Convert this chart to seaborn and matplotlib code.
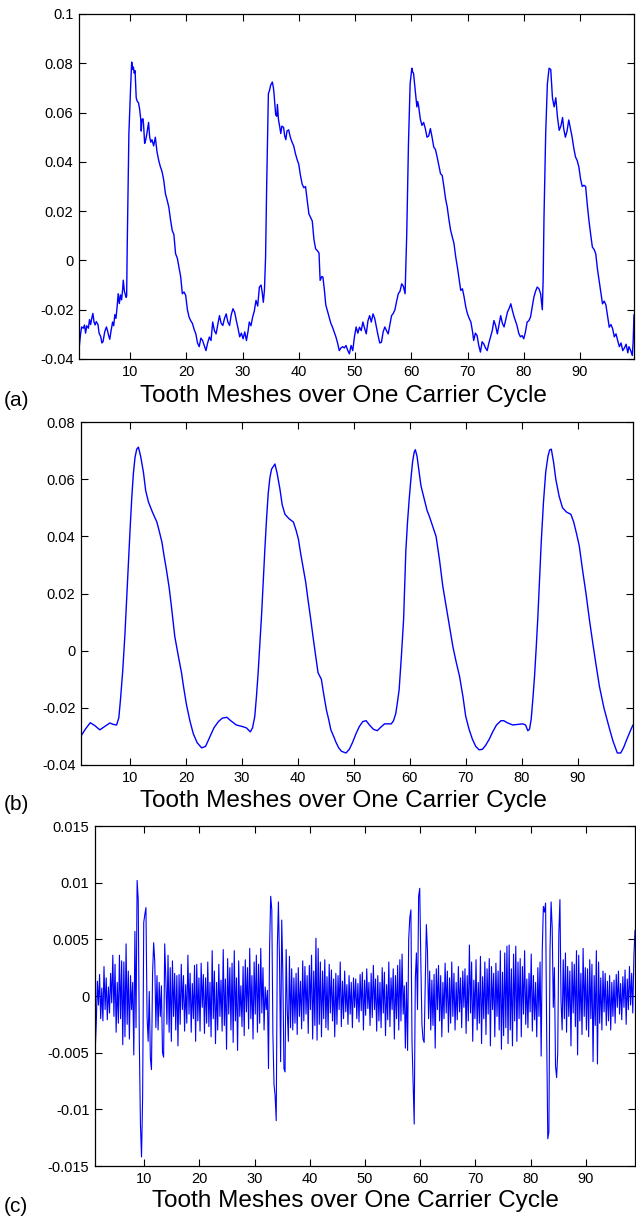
import numpy as np
import pandas as pd
import matplotlib
matplotlib.use("Agg")
import matplotlib.pyplot as plt
import seaborn as sns

# ---------------- data ----------------
# (a) measured signal (x, value) read from the picture
a_pts = [(1.0,-.0345),(1.2,-.030),(1.4,-.027),(1.7,-.0275),(1.9,-.0262),(2.1,-.0295),(2.3,-.0265),(2.6,-.0275),(2.8,-.024),(3.0,-.026),(3.2,-.0235),(3.4,-.0215),(3.6,-.025),(3.8,-.0262),(4.0,-.0248),(4.3,-.026),(4.5,-.0295),(4.8,-.031),(5.0,-.0335),(5.2,-.033),(5.5,-.029),(5.8,-.027),(6.0,-.0285),(6.2,-.0305),(6.4,-.032),(6.6,-.029),(6.9,-.025),(7.1,-.0265),(7.3,-.022),(7.5,-.0235),(7.7,-.019),(7.9,-.0135),(8.1,-.0175),(8.3,-.014),(8.5,-.016),(8.7,-.0115),(8.8,-.008),(9.0,-.0125),(9.3,-.015),(9.4,-.0145),(9.5,.0054),(9.7,.035),(9.8,.0515),(10.0,.064),(10.1,.070),(10.3,.0805),(10.45,.0775),(10.6,.0785),(10.75,.076),(10.9,.077),(11.1,.066),(11.3,.0645),(11.5,.064),(11.7,.0615),(11.9,.0575),(12.0,.0525),(12.1,.057),(12.3,.0575),(12.4,.0555),(12.6,.0475),(12.8,.049),(13.0,.0515),(13.3,.056),(13.5,.050),(13.7,.048),(13.9,.049),(14.2,.0465),(14.5,.050),(14.8,.044),(15.1,.0406),(15.4,.038),(15.7,.036),(16.0,.0325),(16.3,.027),(16.6,.0245),(16.9,.0216),(17.2,.0165),(17.5,.0122),(17.8,.0105),(18.1,.0027),(18.4,.001),(18.7,-.0027),(19.0,-.0065),(19.3,-.0135),(19.6,-.0128),(19.9,-.0142),(20.2,-.020),(20.5,-.023),(20.8,-.0245),(21.1,-.0256),(21.4,-.028),(21.7,-.0298),(22.0,-.0335),(22.3,-.035),(22.6,-.0315),(22.9,-.0325),(23.2,-.0345),(23.5,-.0366),(23.8,-.0335),(24.1,-.0311),(24.4,-.0325),(24.7,-.025),(25.0,-.0285),(25.3,-.0298),(25.6,-.026),(25.9,-.0224),(26.2,-.0255),(26.5,-.0264),(26.8,-.0235),(27.1,-.0217),(27.4,-.025),(27.7,-.0264),(28.0,-.022),(28.3,-.0196),(28.6,-.021),(28.9,-.0244),(29.2,-.0275),(29.5,-.031),(29.8,-.0295),(30.1,-.0318),(30.4,-.029),(30.7,-.0325),(31.0,-.0285),(31.2,-.025),(31.5,-.0265),(31.8,-.023),(32.1,-.0205),(32.4,-.0162),(32.7,-.0185),(33.0,-.0108),(33.3,-.010),(33.5,-.013),(33.7,-.017),(33.9,-.012),(34.1,.0013),(34.3,.031),(34.5,.056),(34.6,.0677),(34.8,.069),(35.0,.0711),(35.3,.0724),(35.5,.070),(35.6,.0677),(35.8,.062),(35.9,.059),(36.1,.0585),(36.2,.0633),(36.4,.057),(36.6,.0545),(36.8,.0515),(37.0,.0545),(37.3,.054),(37.5,.0505),(37.7,.049),(37.9,.0525),(38.2,.053),(38.5,.050),(38.8,.048),(39.1,.0465),(39.4,.0434),(39.7,.041),(40.0,.039),(40.3,.0345),(40.6,.031),(40.9,.0295),(41.2,.030),(41.5,.0245),(41.8,.0189),(42.1,.0175),(42.4,.016),(42.7,.0085),(43.0,.0047),(43.3,.0040),(43.6,.003),(43.8,-.0081),(44.1,-.0065),(44.3,-.0068),(44.6,-.013),(44.8,-.018),(45.1,-.0205),(45.4,-.0229),(45.7,-.0255),(46.0,-.0271),(46.3,-.029),(46.6,-.031),(46.9,-.0335),(47.2,-.0366),(47.5,-.0355),(47.8,-.035),(48.1,-.0355),(48.4,-.0345),(48.7,-.0365),(49.0,-.0379),(49.3,-.0345),(49.6,-.0366),(49.9,-.031),(50.2,-.027),(50.5,-.0295),(50.8,-.0271),(51.1,-.0285),(51.4,-.025),(51.7,-.0275),(52.0,-.0298),(52.3,-.0245),(52.6,-.0224),(52.9,-.025),(53.2,-.0217),(53.5,-.0235),(53.8,-.0271),(54.1,-.0305),(54.4,-.0335),(54.7,-.0332),(55.0,-.029),(55.3,-.027),(55.6,-.0285),(55.9,-.0298),(56.2,-.026),(56.5,-.0224),(56.8,-.0215),(57.1,-.020),(57.4,-.0165),(57.7,-.0135),(58.0,-.0125),(58.3,-.0095),(58.6,-.0105),(58.9,-.0135),(59.2,.011),(59.5,.047),(59.8,.0717),(60.1,.078),(60.25,.0765),(60.4,.076),(60.7,.069),(61.0,.0623),(61.15,.0645),(61.3,.0628),(61.6,.0575),(61.9,.0548),(62.2,.056),(62.5,.0535),(62.8,.050),(63.1,.0505),(63.4,.0535),(63.7,.050),(64.0,.046),(64.3,.045),(64.6,.042),(64.9,.0385),(65.2,.0352),(65.5,.0345),(65.8,.030),(66.1,.025),(66.4,.0216),(66.7,.0165),(67.0,.0122),(67.3,.0095),(67.6,.0068),(67.9,.0015),(68.2,-.0027),(68.5,-.0075),(68.8,-.0122),(69.1,-.0115),(69.4,-.0149),(69.7,-.019),(70.0,-.0217),(70.3,-.0235),(70.6,-.025),(70.9,-.029),(71.1,-.0325),(71.4,-.0295),(71.7,-.0305),(72.0,-.0345),(72.3,-.0372),(72.6,-.033),(72.9,-.0339),(73.2,-.0355),(73.5,-.0366),(73.8,-.0335),(74.1,-.031),(74.4,-.0285),(74.7,-.0244),(75.0,-.0265),(75.3,-.0298),(75.6,-.026),(75.9,-.0224),(76.2,-.0255),(76.5,-.027),(76.8,-.024),(77.1,-.021),(77.4,-.0195),(77.7,-.0176),(78.0,-.0205),(78.3,-.023),(78.6,-.025),(78.8,-.0264),(79.1,-.0295),(79.4,-.031),(79.7,-.0305),(80.0,-.0318),(80.3,-.029),(80.6,-.025),(80.9,-.0245),(81.2,-.023),(81.5,-.019),(81.8,-.0149),(82.1,-.0125),(82.4,-.0108),(82.7,-.0115),(83.0,-.0135),(83.3,-.020),(83.45,-.0075),(83.6,.0176),(83.9,.0515),(84.2,.0717),(84.5,.078),(84.8,.0775),(85.1,.066),(85.4,.0623),(85.7,.066),(86.0,.058),(86.3,.0528),(86.6,.0545),(86.9,.058),(87.1,.0535),(87.4,.050),(87.7,.0525),(88.0,.057),(88.3,.0535),(88.6,.050),(88.9,.0455),(89.2,.042),(89.5,.0405),(89.8,.0379),(90.1,.033),(90.4,.030),(90.7,.0305),(91.0,.030),(91.3,.0225),(91.6,.016),(91.9,.0105),(92.2,.0054),(92.5,.0045),(92.8,.0027),(93.1,-.0035),(93.4,-.0081),(93.7,-.0125),(94.0,-.0176),(94.3,-.0165),(94.6,-.018),(94.9,-.0225),(95.2,-.0271),(95.5,-.026),(95.8,-.0277),(96.1,-.031),(96.4,-.0298),(96.7,-.0325),(97.0,-.035),(97.3,-.0335),(97.6,-.0366),(97.9,-.0355),(98.2,-.034),(98.5,-.0375),(98.7,-.035),(99.0,-.0365),(99.3,-.0386),(99.45,-.033),(99.6,-.022)]

# (b) smoothed signal (x, value)
b_pts = [(1.2,-.030),(2.0,-.0275),(2.9,-.0252),(3.7,-.0262),(4.6,-.0277),(5.5,-.0265),(6.4,-.0253),(7.0,-.0258),(7.6,-.026),(8.0,-.0235),(8.3,-.017),(8.7,-.007),(9.1,.006),(9.4,.018),(9.7,.0296),(10.0,.042),(10.3,.053),(10.6,.062),(10.9,.0677),(11.2,.0705),(11.5,.0712),(11.9,.068),(12.4,.0624),(12.8,.056),(13.3,.052),(14.0,.0485),(14.8,.045),(15.2,.042),(15.7,.038),(16.1,.033),(16.5,.0284),(17.0,.022),(17.4,.0155),(18.0,.005),(18.6,-.0015),(19.2,-.0077),(19.6,-.013),(20.1,-.019),(20.7,-.0245),(21.3,-.029),(22.0,-.0322),(22.8,-.034),(23.5,-.0335),(24.3,-.030),(25.0,-.027),(25.8,-.0248),(26.5,-.0236),(27.3,-.0233),(28.0,-.0245),(29.0,-.026),(30.0,-.0265),(30.8,-.027),(31.5,-.0284),(31.9,-.027),(32.3,-.023),(32.6,-.016),(32.9,-.0077),(33.2,.002),(33.5,.012),(33.8,.024),(34.1,.0354),(34.4,.046),(34.7,.055),(35.0,.0605),(35.3,.0635),(35.9,.0653),(36.3,.062),(36.8,.0565),(37.2,.051),(37.7,.0477),(38.4,.0462),(39.2,.045),(39.7,.042),(40.1,.039),(40.5,.034),(40.9,.0296),(41.4,.024),(41.8,.018),(42.3,.011),(42.7,.005),(43.2,-.002),(43.6,-.0077),(44.2,-.010),(44.6,-.015),(45.1,-.0207),(45.5,-.024),(45.9,-.0277),(46.4,-.030),(46.8,-.032),(47.3,-.034),(47.8,-.0352),(48.6,-.0358),(49.2,-.0345),(49.8,-.032),(50.4,-.029),(51.0,-.0265),(51.6,-.0248),(52.2,-.0245),(52.8,-.026),(53.5,-.0275),(54.2,-.028),(54.8,-.0268),(55.5,-.0256),(56.1,-.0256),(56.7,-.0256),(57.1,-.0245),(57.5,-.022),(57.8,-.018),(58.1,-.0137),(58.5,-.002),(58.9,.011),(59.3,.035),(59.6,.045),(59.9,.053),(60.2,.060),(60.5,.066),(60.8,.0695),(61.0,.0703),(61.3,.068),(61.7,.062),(62.0,.0577),(62.6,.053),(63.1,.049),(63.5,.047),(64.1,.0435),(64.7,.040),(65.3,.032),(65.9,.0226),(66.8,.012),(67.7,.0015),(68.3,-.004),(68.9,-.009),(69.5,-.016),(70.0,-.023),(70.6,-.0275),(71.2,-.031),(71.8,-.0335),(72.4,-.0347),(73.0,-.0345),(73.6,-.033),(74.2,-.031),(74.8,-.0285),(75.5,-.026),(76.3,-.0245),(76.8,-.0245),(77.4,-.0252),(78.4,-.026),(79.3,-.0258),(80.2,-.0256),(80.7,-.026),(81.1,-.028),(81.4,-.0275),(81.7,-.024),(82.0,-.017),(82.3,-.009),(82.6,.001),(82.9,.012),(83.2,.025),(83.5,.038),(83.9,.052),(84.3,.0625),(84.7,.068),(85.0,.0702),(85.3,.0705),(85.7,.066),(86.1,.060),(86.7,.054),(87.3,.050),(88.0,.0485),(88.8,.0477),(89.3,.045),(89.8,.041),(90.3,.0366),(90.9,.028),(91.5,.020),(92.1,.011),(92.7,.0028),(93.3,-.005),(93.9,-.0125),(94.7,-.020),(95.6,-.0266),(96.3,-.0315),(97.1,-.0358),(97.7,-.0358),(98.2,-.034),(98.8,-.031),(99.5,-.0277),(99.9,-.026)]

# (c) residual signal, sampled from x = 1.1 to 98.9
c_start, c_end = 1.1, 98.9
c_vals = [
 -.0049,-.0024,.0013,-.0008,.0019,-.0020,.0007,-.0022,.0026,-.0012,.0016,-.0021,.0008,-.0015,.0020,-.0006,.0036,-.0018,.0028,-.0032,.0012,-.0024,.0036,-.0020,.0031,
 -.0043,.0030,-.0036,.0046,-.0025,.0022,-.0038,.0018,-.0012,.0012,-.0052,.0057,-.0028,.0102,.0085,-.0040,-.0113,-.0142,-.0089,.0065,.0072,.0078,-.0018,-.0040,.0004,
 -.0055,-.0065,.0020,.0047,.0030,-.0028,.0018,-.0030,.0012,-.0018,.0009,-.0050,-.0054,.0046,.0015,-.0025,.0036,-.0032,.0025,-.0040,.0031,-.0018,.0020,-.0030,.0018,
 -.0044,.0019,-.0025,.0028,-.0012,.0018,-.0031,.0010,-.0024,.0036,-.0016,.0020,-.0032,.0011,-.0020,.0027,-.0040,.0028,-.0022,.0016,-.0031,.0029,-.0010,.0019,-.0033,
 .0016,-.0024,.0030,-.0027,.0012,-.0036,.0040,-.0020,.0022,-.0042,.0012,-.0030,.0028,-.0018,.0014,-.0031,.0041,-.0026,.0015,-.0047,.0033,-.0016,.0025,-.0030,.0029,
 -.0041,.0040,-.0022,.0016,-.0048,.0031,-.0018,.0009,-.0027,.0026,-.0035,.0032,-.0014,.0025,-.0029,.0042,-.0020,.0018,-.0038,.0030,-.0016,.0036,-.0032,.0028,-.0024,
 .0042,-.0015,.0025,-.0030,.0008,-.0012,.0005,-.0064,.0043,.0088,.0076,-.0034,-.0078,-.0088,-.0110,.0042,.0083,.0030,-.0058,.0067,.0020,-.0064,-.0067,.0041,-.0012,
 -.0040,.0035,-.0028,.0024,-.0030,.0016,-.0024,.0020,-.0034,.0025,-.0018,.0013,-.0029,.0031,-.0022,.0026,-.0016,.0018,-.0033,.0027,-.0012,.0036,-.0038,.0022,-.0026,
 .0051,-.0039,.0042,-.0025,.0030,-.0036,.0022,-.0020,.0032,-.0028,.0017,-.0030,.0028,-.0015,.0023,-.0022,.0015,-.0036,.0020,-.0025,.0018,-.0012,.0030,-.0027,.0013,
 -.0020,.0022,-.0014,.0010,-.0025,.0018,-.0016,.0012,-.0028,.0016,-.0010,.0015,-.0020,.0011,-.0023,.0019,-.0013,.0021,-.0030,.0014,-.0017,.0024,-.0011,.0012,-.0026,
 .0020,-.0019,.0027,-.0012,.0015,-.0031,.0018,-.0022,.0012,-.0028,.0025,-.0015,.0021,-.0035,.0010,-.0021,.0030,-.0027,.0016,-.0012,.0024,-.0038,.0018,-.0020,.0027,
 -.0030,.0032,-.0022,.0037,-.0016,.0009,-.0046,.0012,-.0048,.0050,.0069,.0076,-.0040,-.0076,-.0113,.0015,.0038,-.0012,.0088,.0095,.0030,-.0025,-.0038,-.0041,.0012,
 .0063,.0040,-.0020,.0022,-.0030,.0014,-.0026,.0019,-.0046,.0024,-.0012,.0027,-.0022,.0018,-.0036,.0012,-.0020,.0029,-.0015,.0022,-.0032,.0016,-.0024,.0030,-.0018,
 .0020,-.0030,.0012,-.0021,.0026,-.0014,.0016,-.0028,.0022,-.0010,.0024,-.0033,.0018,-.0022,.0045,-.0015,.0030,-.0040,.0014,-.0020,.0032,-.0030,.0012,-.0024,.0035,
 -.0042,.0017,-.0020,.0030,-.0034,.0024,-.0016,.0033,-.0044,.0026,-.0012,.0020,-.0036,.0029,-.0018,.0022,-.0030,.0040,-.0047,.0021,-.0035,.0038,-.0028,.0044,-.0042,
 .0045,-.0030,.0024,-.0044,.0037,-.0022,.0044,-.0040,.0030,-.0020,.0033,-.0036,.0026,-.0016,.0040,-.0025,.0015,-.0028,.0020,-.0014,.0037,-.0031,.0018,-.0021,.0012,
 -.0036,.0025,-.0018,.0030,-.0053,.0040,.0079,.0074,.0082,-.0035,-.0126,-.0120,.0040,.0083,.0060,-.0010,.0025,-.0062,-.0072,-.0050,.0055,.0085,-.0005,-.0030,.0032,
 -.0020,.0038,-.0032,.0026,-.0018,.0022,-.0044,.0030,-.0015,.0028,-.0027,.0040,-.0052,.0036,-.0022,.0020,-.0034,.0042,-.0018,.0025,-.0030,.0024,-.0036,.0032,-.0020,
 .0028,-.0058,.0018,-.0026,.0040,-.0060,.0030,-.0024,.0016,-.0030,.0022,-.0014,.0020,-.0026,.0013,-.0022,.0018,-.0030,.0012,-.0018,.0014,-.0024,.0019,-.0010,.0022,
 -.0016,.0011,-.0021,.0017,-.0010,.0023,-.0025,.0015,-.0012,.0026,-.0008,.0020,-.0015,.0035,.0058,
]

x_ticks = [10, 20, 30, 40, 50, 60, 70, 80, 90]
a_yticks = [-0.04, -0.02, 0, 0.02, 0.04, 0.06, 0.08, 0.1]
a_ylabels = ["-0.04", "-0.02", "0", "0.02", "0.04", "0.06", "0.08", "0.1"]
b_yticks = [-0.04, -0.02, 0, 0.02, 0.04, 0.06, 0.08]
b_ylabels = ["-0.04", "-0.02", "0", "0.02", "0.04", "0.06", "0.08"]
c_yticks = [-0.015, -0.01, -0.005, 0, 0.005, 0.01, 0.015]
c_ylabels = ["-0.015", "-0.01", "-0.005", "0", "0.005", "0.01", "0.015"]
x_label = "Tooth Meshes over One Carrier Cycle"
panel_tags = ["(a)", "(b)", "(c)"]

# ---------------- style ----------------
sns.set_theme(style="white")
plt.rcParams["font.family"] = ["Liberation Sans", "DejaVu Sans"]

W, H = 636, 1216
fig = plt.figure(figsize=(W / 100, H / 100), dpi=100)

def px_axes(left, top, right, bottom):
    return fig.add_axes([left / W, 1 - bottom / H, (right - left) / W, (bottom - top) / H])

ax_a = px_axes(79, 14, 634, 359)
ax_b = px_axes(81, 422, 633, 765)
ax_c = px_axes(95, 826, 635, 1166)

df_a = pd.DataFrame(a_pts, columns=["x", "y"])
df_b = pd.DataFrame(b_pts, columns=["x", "y"])
df_c = pd.DataFrame({"x": np.linspace(c_start, c_end, len(c_vals)), "y": c_vals})

sns.lineplot(data=df_a, x="x", y="y", ax=ax_a, color="#0000ff", linewidth=1.0, estimator=None, sort=False)
sns.lineplot(data=df_b, x="x", y="y", ax=ax_b, color="#0000ff", linewidth=1.0, estimator=None, sort=False)
sns.lineplot(data=df_c, x="x", y="y", ax=ax_c, color="#0000ff", linewidth=0.8, estimator=None, sort=False)

specs = [
    (ax_a, (0.93, 99.6), (-0.04, 0.1), a_yticks, a_ylabels),
    (ax_b, (1.24, 99.9), (-0.04, 0.08), b_yticks, b_ylabels),
    (ax_c, (1.07, 98.9), (-0.015, 0.015), c_yticks, c_ylabels),
]
for ax, xl, yl, yt, ylab in specs:
    ax.set_xlim(*xl)
    ax.set_ylim(*yl)
    ax.set_xticks(x_ticks)
    ax.set_xticklabels([str(t) for t in x_ticks])
    ax.set_yticks(yt)
    ax.set_yticklabels(ylab)
    ax.set_xlabel("")
    ax.set_ylabel("")
    ax.tick_params(direction="in", length=5, width=0.8, colors="black",
                   labelsize=10.5, top=True, right=True, bottom=True, left=True,
                   labeltop=False, labelright=False, pad=4)
    for s in ax.spines.values():
        s.set_color("black")
        s.set_linewidth(0.9)
    ax.set_facecolor("white")

# x labels and panel tags
label_xy = [(343, 396), (343, 801), (355, 1201)]
tag_y = [400, 805, 1206]
for (lx, ly), ty, tag in zip(label_xy, tag_y, panel_tags):
    fig.text(lx / W, 1 - ly / H, x_label, ha="center", va="center", fontsize=17.6, color="black")
    fig.text(4 / W, 1 - ty / H, tag, ha="left", va="center", fontsize=15, color="black")

fig.savefig("out.png", dpi=100, facecolor="white")
